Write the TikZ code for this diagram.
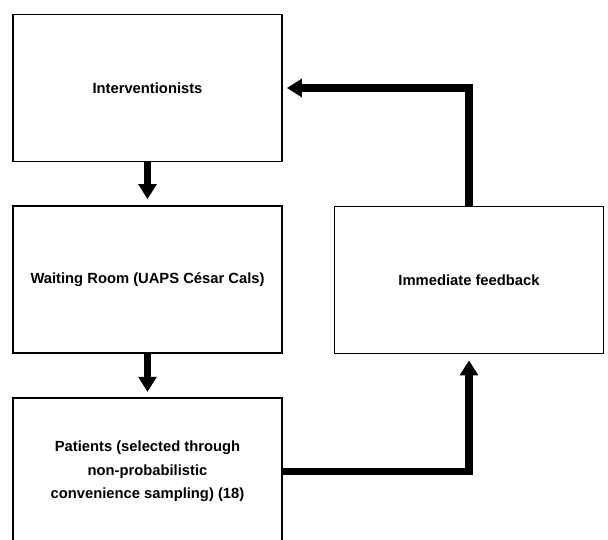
\documentclass[tikz,border=0pt]{standalone}
\usepackage{fontspec}
\setmainfont{Liberation Sans}
\usetikzlibrary{arrows.meta}

\begin{document}
\begin{tikzpicture}[x=0.02cm, y=-0.02cm,
	box/.style={draw, line width=1pt, minimum width=5.38cm, minimum height=2.94cm,
		align=center, font=\fontsize{8.4}{13.4}\selectfont\bfseries},
	flow/.style={line width=4pt, -{Triangle[width=10pt,length=8.5pt]}}]
	\useasboundingbox (0,0) rectangle (608,540);
	%\draw[help lines] (0,0) grid[step=50] (608,540);
	\node[box] (interv) at (147.5,88) {Interventionists};
	\node[box] (waiting) at (147.5,279.5) {Waiting Room (UAPS César Cals)};
	\node[box] (patients) at (147.5,471.5) {Patients (selected through\\ non-probabilistic\\ convenience sampling) (18)};
	\node[box] (feedback) at (469,280) {Immediate feedback};
	\draw[flow, shorten >=3.4pt] (interv) -- (waiting);
	\draw[flow, shorten >=3pt] (waiting) -- (patients);
	\draw[flow, shorten >=3.4pt] (patients.east) -| (feedback.south);
	\draw[flow, shorten >=2.3pt] (feedback.north) |- (interv.east);
\end{tikzpicture}
\end{document}
